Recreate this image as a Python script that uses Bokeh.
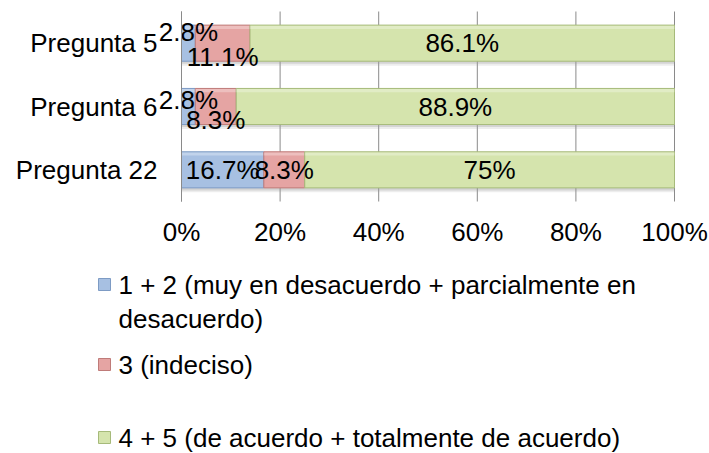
from bokeh.plotting import figure
from bokeh.models import (Range1d, FixedTicker, PrintfTickFormatter, LinearAxis,
                          ColumnDataSource)
from bokeh.core.properties import value
from bokeh.embed import file_html
from bokeh.resources import INLINE

# ---- data ----
categories = ["Pregunta 5", "Pregunta 6", "Pregunta 22"]
series_names = ["1 + 2 (muy en desacuerdo + parcialmente en\ndesacuerdo)",
                "3 (indeciso)",
                "4 + 5 (de acuerdo + totalmente de acuerdo)"]
s1 = [2.8, 2.8, 16.7]
s2 = [11.1, 8.3, 8.3]
s3 = [86.1, 88.9, 75.0]
lab1 = ["2.8%", "2.8%", "16.7%"]
lab2 = ["11.1%", "8.3%", "8.3%"]
lab3 = ["86.1%", "88.9%", "75%"]
x_ticks = [0, 20, 40, 60, 80, 100]

FONT = "Liberation Sans"
FS = "26px"
fills = ["#A7C0E2", "#E5A4A3", "#D5E4AD"]
edges = ["#7D9BC4", "#BF7B79", "#A6BA7A"]
GRID = "#8A8A8A"

# ---- layout (canvas pixels) ----
W, HT = 709, 453
FL, FR = 181, 674          # plot area left/right
FT, FB = 11, 201           # plot area top/bottom
N = len(categories)
xppu = (FR - FL) / 100.0
yppu = (FB - FT) / N

def xd(px):  # canvas px -> x data
    return (px - FL) / xppu

def yd(py):  # canvas px -> y data (category units, 0 at plot bottom)
    return (FB - py) / yppu

p = figure(width=W, height=HT, x_range=Range1d(xd(0), xd(W)), y_range=Range1d(yd(HT), yd(0)),
           output_backend="svg", toolbar_location=None, min_border=0,
           x_axis_type=None, y_axis_type=None)
p.outline_line_color = None
p.background_fill_color = "white"
p.border_fill_color = "white"
p.grid.visible = False

# category positions, as a categorical scale would place them (top to bottom)
cat_pos = [N - i - 0.5 for i in range(N)]

# vertical gridlines at the x ticks, spanning the plot area
p.segment(x0=x_ticks, x1=x_ticks, y0=[0] * len(x_ticks), y1=[N] * len(x_ticks),
          line_color=GRID, line_width=1)

# axes
xa = LinearAxis(fixed_location=0, ticker=FixedTicker(ticks=x_ticks),
                formatter=PrintfTickFormatter(format="%d%%"))
xa.axis_line_color = None
xa.major_tick_line_color = None
xa.minor_tick_line_color = None
xa.major_tick_out = 0
xa.major_tick_in = 0
xa.major_label_standoff = 15
xa.major_label_text_font = FONT
xa.major_label_text_font_size = FS
xa.major_label_text_color = "black"
p.add_layout(xa, "below")

ya = LinearAxis(fixed_location=0, ticker=FixedTicker(ticks=cat_pos),
                major_label_overrides={pos: c for pos, c in zip(cat_pos, categories)},
                bounds=(0, N))
ya.axis_line_color = GRID
ya.major_tick_line_color = None
ya.minor_tick_line_color = None
ya.major_tick_out = 0
ya.major_tick_in = 0
ya.major_label_standoff = 24
ya.major_label_text_font = FONT
ya.major_label_text_font_size = FS
ya.major_label_text_color = "black"
p.add_layout(ya, "left")

starts1 = [0.0] * N
ends1 = list(s1)
starts2 = ends1
ends2 = [a + b for a, b in zip(s1, s2)]
starts3 = ends2
ends3 = [a + b + c for a, b, c in zip(s1, s2, s3)]

H = 0.57
# soft drop shadow under each bar
for d, a in [(-0.07, 0.18), (-0.04, 0.3)]:
    p.hbar(y=[c + d for c in cat_pos], left=starts1, right=ends3, height=H,
           fill_color="#9A9A9A", fill_alpha=a, line_color=None)

segs = [(starts1, ends1, lab1), (starts2, ends2, lab2), (starts3, ends3, lab3)]
label_dy = [[-11, -7, 0], [14, 13, 0], [0, 0, 0]]
for i, (st, en, lb) in enumerate(segs):
    src = ColumnDataSource(dict(y=cat_pos, left=st, right=en,
                                ytop=[c + H / 2 - 0.035 for c in cat_pos]))
    p.hbar(y="y", left="left", right="right", height=H, source=src,
           fill_color=fills[i], line_color=edges[i], line_width=1)
    # light bevel strip on top of each segment
    p.hbar(y="ytop", left="left", right="right", height=0.05, source=src,
           fill_color="white", fill_alpha=0.3, line_color=None)
for i, (st, en, lb) in enumerate(segs):
    src = ColumnDataSource(dict(y=cat_pos, mid=[(a + b) / 2 for a, b in zip(st, en)],
                                lab=lb, dy=label_dy[i]))
    p.text(x="mid", y="y", text="lab", source=src, y_offset="dy",
           text_align="center", text_baseline="middle",
           text_font=value(FONT), text_font_size=FS, text_color="black")

# ---- legend (below the plot area) ----
text_px = 118
mark_px = 104
line_mid_px = [[284, 318], [364], [437]]
for i, name in enumerate(series_names):
    lines = name.split("\n")
    ys = [yd(b) for b in line_mid_px[i][:len(lines)]]
    p.text(x=[xd(text_px)] * len(lines), y=ys, text=lines, text_baseline="middle",
           text_align="left", text_font=value(FONT), text_font_size=FS,
           text_color="black")

p.scatter(x=[xd(mark_px)] * N, y=[yd(b[0]) for b in line_mid_px], marker="square",
          size=12, fill_color=fills, line_color=edges, line_width=1)

open("out.html", "w").write(file_html(p, INLINE))
